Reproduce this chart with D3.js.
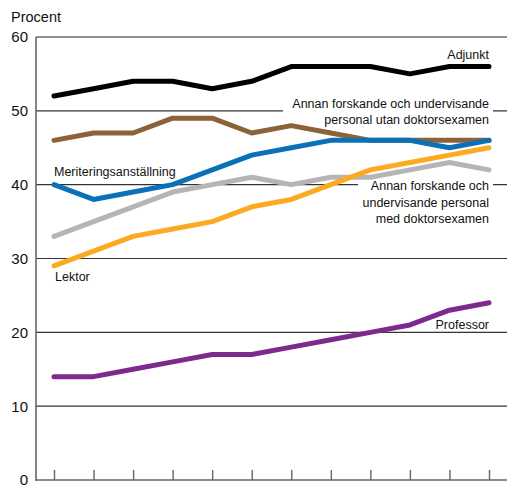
<!DOCTYPE html>
<html><head><meta charset="utf-8">
<script src="https://cdn.jsdelivr.net/npm/d3@7"></script>
<style>body{margin:0;background:#fff}svg{display:block;font-family:"Liberation Sans",Arial,sans-serif}</style>
</head><body><svg id="c" width="507" height="488"></svg>
<script>
const years = [1,2,3,4,5,6,7,8,9,10,11,12];
const yTicks = [0,10,20,30,40,50,60];
const adjunkt    = [52,53,54,54,53,54,56,56,56,55,56,56];
const annanUtan  = [46,47,47,49,49,47,48,47,46,46,46,46];
const meritering = [40,38,39,40,42,44,45,46,46,46,45,46];
const annanMed   = [33,35,37,39,40,41,40,41,41,42,43,42];
const lektor     = [29,31,33,34,35,37,38,40,42,43,44,45];
const professor  = [14,14,15,16,17,17,18,19,20,21,23,24];
const seriesNames = ["Adjunkt","Annan forskande och undervisande personal utan doktorsexamen","Meriteringsanställning","Annan forskande och undervisande personal med doktorsexamen","Lektor","Professor"];
const colors = ["#000000","#8c6239","#0a71b9","#b5b5b7","#fbaa22","#7d2a8f"];
const series = [adjunkt, annanUtan, meritering, annanMed, lektor, professor];

const svg = d3.select("#c");
const x = d3.scalePoint().domain(years).range([54,489]);
const y = d3.scaleLinear().domain([0,60]).range([480,37]);
const L = 36, R = 507;

// gridlines
const grid = svg.append("g");
yTicks.filter(d=>d>0).forEach(d=>{
  grid.append("line").attr("x1",L).attr("x2",R).attr("y1",y(d)).attr("y2",y(d))
    .attr("stroke",d===60?"#222":"#333").attr("stroke-width",1.2);
});
// y tick labels
svg.append("g").selectAll("text").data(yTicks).join("text")
  .attr("x",28).attr("y",d=>y(d)).attr("dy","0.36em").attr("text-anchor","end")
  .attr("font-size",15).attr("fill","#111").text(d=>d);
svg.append("text").attr("x",11).attr("y",22).attr("font-size",14.5).attr("fill","#111").text("Procent");

// axes
const xAxis = d3.axisBottom(x).tickSize(-10).tickFormat("");
const gx = svg.append("g").attr("transform",`translate(0,${y(0)})`).call(xAxis);
gx.select(".domain").remove();
gx.selectAll(".tick line").attr("stroke","#666").attr("stroke-width",1.4);
svg.append("line").attr("x1",L).attr("x2",R).attr("y1",y(0)).attr("y2",y(0)).attr("stroke","#666").attr("stroke-width",1.6);
svg.append("line").attr("x1",L).attr("x2",L).attr("y1",y(60)).attr("y2",y(0)+1).attr("stroke","#666").attr("stroke-width",1.6);

// label backgrounds (gaps in gridlines)
svg.append("rect").attr("x",283).attr("y",y(50)-3).attr("width",210).attr("height",6).attr("fill","#fff");
svg.append("rect").attr("x",358).attr("y",y(40)-3).attr("width",135).attr("height",6).attr("fill","#fff");

// lines
const line = d3.line().x((d,i)=>x(years[i])).y(d=>y(d));
svg.append("g").selectAll("path").data(series).join("path")
  .attr("d",line).attr("fill","none").attr("stroke",(d,i)=>colors[i])
  .attr("stroke-width",5).attr("stroke-linejoin","round").attr("stroke-linecap","round");

// labels
const lab = svg.append("g").attr("font-size",12.5).attr("fill","#111");
function t(xp,yp,anchor,txt){lab.append("text").attr("x",xp).attr("y",yp).attr("text-anchor",anchor).text(txt);}
t(489,59,"end","Adjunkt");
t(489,108,"end","Annan forskande och undervisande");
t(489,124,"end","personal utan doktorsexamen");
t(54,176,"start","Meriteringsanställning");
t(489,190,"end","Annan forskande och");
t(489,207,"end","undervisande personal");
t(489,223,"end","med doktorsexamen");
t(55,281,"start","Lektor");
t(489,329,"end","Professor");
</script></body></html>
